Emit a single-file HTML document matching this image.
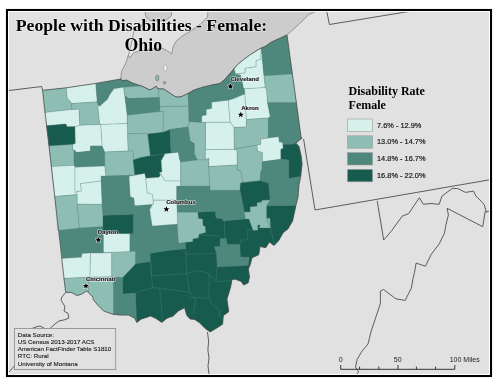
<!DOCTYPE html>
<html><head><meta charset="utf-8"><style>
html,body{margin:0;padding:0;background:#fff;}
body{width:500px;height:386px;overflow:hidden;position:relative;}
svg{position:absolute;left:0;top:0;will-change:transform;}
</style></head><body>
<svg width="500" height="386" viewBox="0 0 500 386">
<rect x="0" y="0" width="500" height="386" fill="#ffffff"/>
<rect x="9" y="11" width="480" height="363" fill="#e1e1e1"/>
<polygon points="128.4,55.2 125.6,63.6 121.5,71.3 120.8,78.5 120.8,78.5 122.0,80.6 126.8,80.2 132.4,83.0 138.0,85.0 143.6,87.0 150.0,90.0 156.3,86.3 158.0,88.9 163.5,88.9 169.0,92.5 174.4,96.1 177.2,97.2 181.7,96.5 188.0,93.5 194.0,90.0 203.0,87.2 212.0,85.0 220.0,83.5 225.0,79.2 231.2,72.0 237.4,64.7 243.7,59.5 250.9,54.3 258.2,49.7 261.3,48.0 265.0,46.6 271.3,42.2 287.0,35.0 299.2,24.0 308.8,14.4 317.0,11.0 208.0,11.0 207.5,17.0 200.0,24.5 190.0,31.4 183.0,35.6 176.0,41.2 173.2,46.8 171.8,53.8 167.6,51.0 162.0,48.2 150.0,49.0 134.0,52.4 129.8,58.0" fill="#cccccc" stroke="#7a7a7a" stroke-width="0.7"/>
<polygon points="144.8,11.0 171.8,11.0 171.3,16.0 166.0,20.3 158.0,21.0 150.0,20.5 146.0,17.0" fill="#cccccc" stroke="#7a7a7a" stroke-width="0.7"/>
<polyline points="147.0,20.5 141.0,26.0 134.0,30.0 132.6,38.4 128.4,55.2" fill="none" stroke="#7a7a7a" stroke-width="0.7"/>
<ellipse cx="165.3" cy="68.2" rx="1.7" ry="3.3" fill="#f0f0f0" stroke="#8a8a8a" stroke-width="0.5"/>
<ellipse cx="157.3" cy="78" rx="1.6" ry="3" fill="#8ebdb3" stroke="#6a6a6a" stroke-width="0.6"/>
<ellipse cx="164.5" cy="82.7" rx="1.5" ry="1.2" fill="#8ebdb3" stroke="#6a6a6a" stroke-width="0.6"/>
<polyline points="9.0,90.5 41.7,86.5 42.6,90.3" fill="none" stroke="#4d4d4d" stroke-width="0.9"/>
<polyline points="65.7,292.4 61.8,297.1 61.0,300.2 64.9,306.4 64.1,311.1 68.0,313.4 68.8,318.1 64.9,319.7 59.0,321.0 55.0,324.0 50.0,328.5 47.0,331.0 44.0,328.0 40.0,326.0 36.0,327.0 32.0,328.5 25.0,340.0 14.6,365.6 9.0,372.0" fill="none" stroke="#4d4d4d" stroke-width="0.9"/>
<polyline points="326.7,11.0 329.4,24.5 411.8,11.0" fill="none" stroke="#4d4d4d" stroke-width="0.9"/>
<polyline points="303.6,139.0 315.0,210.0 489.0,179.9" fill="none" stroke="#4d4d4d" stroke-width="0.9"/>
<polyline points="207.5,332.0 208.6,341.2 207.9,350.0 209.0,358.0 208.0,366.0 209.0,374.0" fill="none" stroke="#4d4d4d" stroke-width="0.9"/>
<polyline points="377.2,200.9 383.7,240.0 391.7,230.7 395.0,226.0 402.2,216.2 408.8,213.5 413.0,207.0 416.7,201.7 419.4,197.7 423.3,204.3 431.0,203.5 439.2,204.3 441.8,196.4 446.0,193.0 452.3,188.5 457.6,188.5 465.5,192.4 473.5,191.1 476.1,196.4 479.0,199.0 484.0,204.3 486.6,212.2 489.0,211.0" fill="none" stroke="#4d4d4d" stroke-width="0.9"/>
<polyline points="447.1,208.3 448.4,214.9 445.8,225.4 444.4,233.3 439.2,243.9 431.2,254.4 428.5,260.0 425.4,266.2 416.1,263.1 414.5,272.4 413.0,278.6 411.4,288.0 405.2,300.4 395.9,298.8 383.5,289.5 380.4,291.0 380.4,303.5 377.3,312.8 374.2,322.1 371.1,331.4 368.0,343.9 361.7,351.6 357.1,359.4 355.5,367.1 358.6,371.8 355.5,376.0" fill="none" stroke="#4d4d4d" stroke-width="0.9"/>
<polyline points="447.1,208.3 482.7,226.7 485.3,210.9" fill="none" stroke="#4d4d4d" stroke-width="0.9"/>
<polygon points="120.8,78.5 122.0,80.6 126.8,80.2 132.4,83.0 138.0,85.0 143.6,87.0 150.0,90.0 156.3,86.3 158.0,88.9 163.5,88.9 169.0,92.5 174.4,96.1 177.2,97.2 181.7,96.5 188.0,93.5 194.0,90.0 203.0,87.2 212.0,85.0 220.0,83.5 225.0,79.2 231.2,72.0 237.4,64.7 243.7,59.5 250.9,54.3 258.2,49.7 261.3,48.0 265.0,46.6 271.3,42.2 287.0,35.0 301.3,139.0 302.0,137.5 295.9,143.3 299.0,146.4 301.1,155.7 302.1,164.0 300.7,176.5 299.0,184.7 298.0,197.2 295.9,205.5 294.9,210.5 292.6,221.0 287.9,229.1 283.3,232.6 278.6,240.8 274.0,245.5 269.3,242.0 265.8,247.8 260.0,246.6 258.8,254.8 252.0,257.8 250.6,263.5 248.4,269.2 249.5,276.9 248.3,282.8 243.6,285.1 241.3,281.6 235.5,279.3 232.0,279.6 230.7,287.0 227.0,299.3 228.8,311.7 223.4,315.6 222.6,324.2 218.0,327.3 210.2,331.9 205.5,328.8 199.3,322.6 194.7,319.5 190.0,319.0 186.6,315.1 184.6,307.8 178.3,311.0 173.2,316.1 167.0,318.2 161.8,322.4 155.5,318.2 150.4,316.1 147.2,317.2 141.0,319.2 136.8,322.4 134.7,318.2 128.5,315.1 120.2,315.1 112.0,314.0 103.7,311.0 97.4,304.7 93.3,299.6 92.9,297.1 86.7,290.9 82.0,294.0 77.3,295.6 71.1,292.4 65.7,292.4 42.6,90.3 66.3,87.8 95.8,83.4 119.8,79.2" fill="#4e877b" stroke="none"/>
<polygon points="122.7,277.6 135.4,264.0 150.4,261.7 150.4,253.5 168.5,250.8 185.8,249.0 185.7,242.3 192.5,241.8 193.0,238.7 198.2,238.1 199.2,234.0 205.6,232.5 205.1,226.2 203.0,225.7 202.5,219.0 198.4,218.5 197.8,212.3 215.5,211.2 216.0,218.0 222.2,218.5 223.2,221.1 228.0,220.5 245.5,219.1 249.0,219.1 253.1,230.2 257.7,230.2 257.7,225.0 260.1,225.0 259.5,227.9 270.5,227.9 270.0,218.6 266.5,218.0 266.5,205.7 296.0,205.5 294.9,210.5 292.6,221.0 287.9,229.1 283.3,232.6 278.6,240.8 274.0,245.5 269.3,242.0 265.8,247.8 260.0,246.6 258.8,254.8 252.0,257.8 250.6,263.5 248.4,269.2 249.5,276.9 248.3,282.8 243.6,285.1 241.3,281.6 235.5,279.3 232.0,279.6 230.7,287.0 227.0,299.3 228.8,311.7 223.4,315.6 222.6,324.2 218.0,327.3 210.2,331.9 205.5,328.8 199.3,322.6 194.7,319.5 190.0,319.0 186.6,315.1 184.6,307.8 178.3,311.0 173.2,316.1 167.0,318.2 161.8,322.4 155.5,318.2 150.4,316.1 147.2,317.2 141.0,319.2 136.8,322.4 134.7,318.2 135.4,293.0 122.7,294.0" fill="#175a4e" stroke="none"/>
<polygon points="42.6,90.3 66.3,87.8 67.2,98.0 70.0,101.0 71.7,103.6 71.7,109.5 44.6,112.5" fill="#8ebdb3" stroke="#5f7f78" stroke-width="0.45" stroke-opacity="0.6"/>
<polygon points="66.3,87.8 95.8,83.4 97.3,101.8 71.7,103.6 70.0,101.0 67.2,98.0" fill="#d6f1ec" stroke="#5f7f78" stroke-width="0.45" stroke-opacity="0.6"/>
<polygon points="44.6,112.5 71.7,109.5 79.0,109.0 79.9,125.3 75.0,126.8 67.0,126.8 65.9,124.0 46.4,125.7" fill="#d6f1ec" stroke="#5f7f78" stroke-width="0.45" stroke-opacity="0.6"/>
<polygon points="71.7,103.6 97.3,101.8 99.8,124.6 79.9,125.3 79.0,109.0 71.7,109.5" fill="#8ebdb3" stroke="#5f7f78" stroke-width="0.45" stroke-opacity="0.6"/>
<polygon points="46.4,125.7 65.9,124.0 67.0,126.8 75.0,126.8 75.4,143.6 72.6,144.4 49.0,146.0" fill="#175a4e" stroke="#5f7f78" stroke-width="0.45" stroke-opacity="0.6"/>
<polygon points="75.0,126.8 79.9,125.3 99.8,124.6 100.9,125.2 102.2,146.0 90.5,146.0 90.5,151.0 76.8,152.5 74.0,149.9 72.6,149.9 72.6,144.4 75.4,143.6" fill="#d6f1ec" stroke="#5f7f78" stroke-width="0.45" stroke-opacity="0.6"/>
<polygon points="49.0,146.0 72.6,144.4 72.6,149.9 74.0,149.9 74.0,165.3 51.6,166.6" fill="#8ebdb3" stroke="#5f7f78" stroke-width="0.45" stroke-opacity="0.6"/>
<polygon points="76.8,152.5 90.5,151.0 90.5,146.0 102.2,146.0 104.8,152.0 104.8,166.0 86.6,167.5 75.0,167.3 74.0,165.3 74.0,149.9" fill="#4e877b" stroke="#5f7f78" stroke-width="0.45" stroke-opacity="0.6"/>
<polygon points="51.6,166.6 74.0,165.3 75.0,167.3 75.0,192.5 77.0,191.4 77.0,194.6 54.7,196.6" fill="#d6f1ec" stroke="#5f7f78" stroke-width="0.45" stroke-opacity="0.6"/>
<polygon points="75.0,167.3 104.8,166.0 106.0,176.0 101.3,176.3 101.3,180.9 80.5,183.7 81.5,191.1 77.0,191.4 75.0,192.5" fill="#d6f1ec" stroke="#5f7f78" stroke-width="0.45" stroke-opacity="0.6"/>
<polygon points="80.5,183.7 101.3,180.9 102.2,204.4 77.2,204.2 77.0,191.4 81.5,191.1" fill="#d6f1ec" stroke="#5f7f78" stroke-width="0.45" stroke-opacity="0.6"/>
<polygon points="54.7,196.6 77.0,194.6 77.2,204.2 79.5,228.1 57.8,230.4" fill="#8ebdb3" stroke="#5f7f78" stroke-width="0.45" stroke-opacity="0.6"/>
<polygon points="77.2,204.2 102.2,204.4 103.0,215.3 102.9,226.5 79.5,228.1" fill="#8ebdb3" stroke="#5f7f78" stroke-width="0.45" stroke-opacity="0.6"/>
<polygon points="61.3,258.5 81.4,257.2 82.2,253.5 90.5,253.1 90.0,277.2 63.6,278.5" fill="#d6f1ec" stroke="#5f7f78" stroke-width="0.45" stroke-opacity="0.6"/>
<polygon points="90.5,253.1 103.3,253.1 111.8,252.6 111.8,276.8 90.0,277.2" fill="#d6f1ec" stroke="#5f7f78" stroke-width="0.45" stroke-opacity="0.6"/>
<polygon points="63.6,278.5 88.5,277.0 88.5,292.5 86.7,290.9 82.0,294.0 77.3,295.6 71.1,292.4 65.7,292.4" fill="#8ebdb3" stroke="#5f7f78" stroke-width="0.45" stroke-opacity="0.6"/>
<polygon points="88.5,277.0 113.7,277.0 113.7,314.5 112.0,314.0 103.7,311.0 97.4,304.7 93.3,299.6 92.9,297.1 88.5,292.5" fill="#8ebdb3" stroke="#5f7f78" stroke-width="0.45" stroke-opacity="0.6"/>
<polygon points="113.7,277.0 122.7,277.6 122.7,294.0 135.4,293.0 136.8,322.4 134.7,318.2 128.5,315.1 120.2,315.1 113.7,314.5" fill="#4e877b" stroke="#5f7f78" stroke-width="0.45" stroke-opacity="0.6"/>
<polygon points="111.8,251.6 129.4,251.6 135.4,251.3 135.4,264.0 122.7,277.6 111.8,276.8" fill="#8ebdb3" stroke="#5f7f78" stroke-width="0.45" stroke-opacity="0.6"/>
<polygon points="103.5,233.6 129.8,233.6 129.8,251.6 103.5,252.6" fill="#d6f1ec" stroke="#5f7f78" stroke-width="0.45" stroke-opacity="0.6"/>
<polygon points="103.0,215.3 129.4,214.4 133.2,214.4 133.2,233.6 103.5,233.6 103.0,228.5" fill="#175a4e" stroke="#5f7f78" stroke-width="0.45" stroke-opacity="0.6"/>
<polygon points="95.8,83.4 119.8,79.2 120.8,78.5 122.0,80.6 126.8,80.2 132.4,83.0 138.0,85.0 143.6,87.0 142.0,85.8 123.6,87.3 114.0,88.8 109.4,95.3 107.5,99.2 99.7,106.3 98.4,105.7 97.3,101.8" fill="#4e877b" stroke="#5f7f78" stroke-width="0.45" stroke-opacity="0.6"/>
<polygon points="98.4,105.7 99.7,106.3 107.5,99.2 109.4,95.3 114.0,88.8 123.6,87.3 124.8,95.8 127.3,115.2 127.3,123.5 99.8,124.6 97.3,101.8" fill="#d6f1ec" stroke="#5f7f78" stroke-width="0.45" stroke-opacity="0.6"/>
<polygon points="123.6,87.3 142.0,85.8 143.6,87.0 150.0,90.0 156.3,86.3 158.0,88.9 159.5,97.5 129.0,98.6 125.0,96.0" fill="#8ebdb3" stroke="#5f7f78" stroke-width="0.45" stroke-opacity="0.6"/>
<polygon points="125.0,96.0 129.0,98.6 159.5,97.5 160.0,111.6 127.3,115.2" fill="#4e877b" stroke="#5f7f78" stroke-width="0.45" stroke-opacity="0.6"/>
<polygon points="127.3,115.2 160.0,111.6 163.3,111.3 163.3,132.3 147.8,134.0 127.6,133.5" fill="#8ebdb3" stroke="#5f7f78" stroke-width="0.45" stroke-opacity="0.6"/>
<polygon points="158.0,88.9 163.5,88.9 169.0,92.5 174.4,96.1 177.2,97.2 181.7,96.5 188.0,93.5 188.7,106.2 160.0,106.5 159.5,97.5" fill="#8ebdb3" stroke="#5f7f78" stroke-width="0.45" stroke-opacity="0.6"/>
<polygon points="160.0,106.5 188.7,106.2 189.0,121.8 188.0,127.0 170.0,129.6 163.3,132.3 163.3,111.3 160.0,111.6" fill="#8ebdb3" stroke="#5f7f78" stroke-width="0.45" stroke-opacity="0.6"/>
<polygon points="99.8,124.6 127.3,123.5 127.6,133.5 128.2,151.0 104.8,152.0 102.2,146.0 100.9,125.2" fill="#d6f1ec" stroke="#5f7f78" stroke-width="0.45" stroke-opacity="0.6"/>
<polygon points="127.6,133.5 147.8,134.0 150.4,155.8 140.2,157.7 133.2,160.0 133.0,151.0 128.2,151.0" fill="#8ebdb3" stroke="#5f7f78" stroke-width="0.45" stroke-opacity="0.6"/>
<polygon points="147.8,134.0 163.3,132.3 170.0,129.6 171.1,155.2 165.1,153.8 150.4,155.8" fill="#175a4e" stroke="#5f7f78" stroke-width="0.45" stroke-opacity="0.6"/>
<polygon points="104.8,152.0 128.2,151.0 133.0,151.0 133.2,160.0 134.8,174.8 129.4,175.4 106.0,176.0 104.8,166.0" fill="#8ebdb3" stroke="#5f7f78" stroke-width="0.45" stroke-opacity="0.6"/>
<polygon points="133.2,160.0 140.2,157.7 150.4,155.8 165.1,153.8 161.2,160.8 162.0,171.7 158.9,173.2 160.8,174.1 159.2,177.3 145.7,178.3 144.7,173.6 134.8,174.8" fill="#175a4e" stroke="#5f7f78" stroke-width="0.45" stroke-opacity="0.6"/>
<polygon points="165.1,153.8 171.1,153.0 178.3,152.1 179.7,159.3 180.7,162.0 180.7,181.0 165.2,181.0 160.8,174.1 158.9,173.2 162.0,171.7 161.2,160.8" fill="#d6f1ec" stroke="#5f7f78" stroke-width="0.45" stroke-opacity="0.6"/>
<polygon points="101.3,176.3 106.0,176.0 129.4,175.4 129.4,214.4 103.0,215.3 102.2,204.4 101.3,180.9" fill="#4e877b" stroke="#5f7f78" stroke-width="0.45" stroke-opacity="0.6"/>
<polygon points="129.1,176.2 144.7,173.6 145.7,178.3 147.3,192.8 152.5,194.4 153.3,200.2 153.3,204.3 134.8,205.8 133.8,198.0 130.2,196.4" fill="#d6f1ec" stroke="#5f7f78" stroke-width="0.45" stroke-opacity="0.6"/>
<polygon points="145.7,178.3 159.2,177.3 160.8,174.1 165.2,181.0 180.7,181.0 180.7,186.3 177.1,186.3 177.1,200.2 153.3,200.2 152.5,194.4 147.3,192.8" fill="#d6f1ec" stroke="#5f7f78" stroke-width="0.45" stroke-opacity="0.6"/>
<polygon points="153.3,200.2 177.1,200.2 177.4,212.2 178.2,224.0 152.3,226.1 150.7,216.8 149.7,209.5 152.3,204.8 153.3,204.3" fill="#d6f1ec" stroke="#5f7f78" stroke-width="0.45" stroke-opacity="0.6"/>
<polygon points="188.0,93.5 194.0,90.0 203.0,87.2 212.0,85.0 220.0,83.5 225.0,79.2 231.2,72.0 234.3,68.8 235.4,74.0 240.5,75.0 242.0,79.6 243.3,87.4 244.6,94.0 234.0,98.5 227.2,100.4 211.7,102.3 211.7,108.6 206.3,109.5 206.3,115.0 201.8,115.9 201.8,122.5 189.0,121.8 188.7,106.2" fill="#4e877b" stroke="#5f7f78" stroke-width="0.45" stroke-opacity="0.6"/>
<polygon points="211.7,102.3 228.2,100.2 230.2,122.2 201.8,122.5 201.8,115.9 206.3,115.0 206.3,109.5 211.7,108.6" fill="#d6f1ec" stroke="#5f7f78" stroke-width="0.45" stroke-opacity="0.6"/>
<polygon points="228.2,100.2 234.0,98.5 244.6,94.0 245.0,95.0 246.4,119.6 246.4,127.0 234.0,127.4 230.2,122.2" fill="#d6f1ec" stroke="#5f7f78" stroke-width="0.45" stroke-opacity="0.6"/>
<polygon points="244.6,88.7 265.3,87.4 266.7,90.0 267.6,102.7 270.3,116.4 268.4,118.0 246.4,119.6 245.0,95.0" fill="#d6f1ec" stroke="#5f7f78" stroke-width="0.45" stroke-opacity="0.6"/>
<polygon points="234.3,68.8 237.4,64.7 243.7,59.5 250.9,54.3 258.2,49.7 261.3,48.0 260.8,59.5 256.1,60.5 256.1,66.8 245.2,68.3 245.2,73.0 235.4,74.0" fill="#d6f1ec" stroke="#5f7f78" stroke-width="0.45" stroke-opacity="0.6"/>
<polygon points="235.4,74.0 245.2,73.0 245.2,68.3 256.1,66.8 256.1,60.5 260.8,59.5 261.3,48.0 264.0,75.8 265.3,87.4 244.6,88.7 243.3,87.4 242.0,79.6 240.5,75.0" fill="#d6f1ec" stroke="#5f7f78" stroke-width="0.45" stroke-opacity="0.6"/>
<polygon points="261.3,48.0 265.0,46.6 271.3,42.2 287.0,35.0 292.3,74.0 264.0,75.8" fill="#4e877b" stroke="#5f7f78" stroke-width="0.45" stroke-opacity="0.6"/>
<polygon points="264.0,75.8 292.3,74.0 296.5,102.7 267.6,102.7 266.7,90.0 265.3,87.4" fill="#8ebdb3" stroke="#5f7f78" stroke-width="0.45" stroke-opacity="0.6"/>
<polygon points="201.8,122.5 230.2,122.2 234.0,127.4 234.4,149.4 205.4,149.6 205.4,122.5" fill="#d6f1ec" stroke="#5f7f78" stroke-width="0.45" stroke-opacity="0.6"/>
<polygon points="189.0,121.8 201.8,122.5 205.4,122.5 205.4,160.0 197.3,160.0 194.2,153.9 194.2,143.5 190.0,141.0 188.0,127.0" fill="#8ebdb3" stroke="#5f7f78" stroke-width="0.45" stroke-opacity="0.6"/>
<polygon points="170.0,129.6 188.0,127.0 190.0,141.0 194.2,143.5 194.2,153.9 197.3,160.0 180.7,162.0 179.7,159.3 178.3,152.1 171.1,153.0" fill="#4e877b" stroke="#5f7f78" stroke-width="0.45" stroke-opacity="0.6"/>
<polygon points="234.0,127.4 246.4,127.0 246.4,119.6 268.4,118.0 268.4,138.0 260.7,139.1 260.7,144.5 256.8,145.3 237.3,148.4 234.4,149.4" fill="#8ebdb3" stroke="#5f7f78" stroke-width="0.45" stroke-opacity="0.6"/>
<polygon points="267.6,102.7 296.5,102.7 301.3,139.0 295.9,143.3 292.8,144.3 283.2,144.5 282.4,142.2 279.3,142.2 278.5,136.8 268.4,138.0 268.4,118.0 270.3,116.4" fill="#4e877b" stroke="#5f7f78" stroke-width="0.45" stroke-opacity="0.6"/>
<polygon points="260.7,139.1 278.5,136.8 279.3,142.2 282.4,142.2 283.2,148.4 280.9,149.2 280.9,159.3 262.2,161.7 262.2,152.3 257.6,151.5 256.8,145.3 260.7,144.5" fill="#d6f1ec" stroke="#5f7f78" stroke-width="0.45" stroke-opacity="0.6"/>
<polygon points="283.2,144.5 292.8,144.3 295.9,143.3 299.0,146.4 301.1,155.7 302.1,164.0 300.7,176.5 288.7,178.5 288.7,160.0 280.9,159.3 280.9,149.2 283.2,148.4" fill="#175a4e" stroke="#5f7f78" stroke-width="0.45" stroke-opacity="0.6"/>
<polygon points="205.4,149.6 234.4,149.4 237.0,150.0 237.4,165.0 208.7,166.6 208.7,158.3 205.4,160.0" fill="#d6f1ec" stroke="#5f7f78" stroke-width="0.45" stroke-opacity="0.6"/>
<polygon points="234.4,149.4 237.3,148.4 256.8,145.3 257.6,151.5 262.2,152.3 262.2,161.7 262.3,168.3 260.8,172.2 260.0,180.8 242.9,182.3 240.6,170.7 237.4,169.9 237.4,165.0 237.0,150.0" fill="#8ebdb3" stroke="#5f7f78" stroke-width="0.45" stroke-opacity="0.6"/>
<polygon points="180.7,162.0 197.3,160.0 204.6,160.0 208.7,158.3 208.7,166.6 209.7,186.3 180.7,186.3" fill="#8ebdb3" stroke="#5f7f78" stroke-width="0.45" stroke-opacity="0.6"/>
<polygon points="208.7,166.6 237.4,165.0 237.4,169.9 240.6,170.7 242.9,182.3 240.6,183.1 240.0,190.4 209.7,190.4 209.7,186.3" fill="#8ebdb3" stroke="#5f7f78" stroke-width="0.45" stroke-opacity="0.6"/>
<polygon points="262.2,161.7 280.9,159.3 288.7,160.0 288.7,178.5 300.7,176.5 299.0,184.7 298.0,197.2 295.9,205.5 266.5,205.7 270.0,199.9 268.5,183.3 260.0,180.8 260.8,172.2 262.3,168.3" fill="#4e877b" stroke="#5f7f78" stroke-width="0.45" stroke-opacity="0.6"/>
<polygon points="240.6,183.1 260.0,180.8 268.5,183.3 270.0,199.9 261.8,200.5 261.8,202.2 257.1,202.8 257.1,206.3 250.2,206.9 250.2,212.1 244.3,212.1 240.0,190.4" fill="#175a4e" stroke="#5f7f78" stroke-width="0.45" stroke-opacity="0.6"/>
<polygon points="176.6,186.3 209.7,186.3 209.7,190.4 240.0,190.4 244.3,212.1 245.5,219.1 228.0,220.5 223.2,221.1 222.2,218.5 216.0,218.0 215.5,211.2 197.8,212.3 177.4,212.2 176.6,200.4" fill="#4e877b" stroke="#5f7f78" stroke-width="0.45" stroke-opacity="0.6"/>
<polygon points="244.3,212.1 250.2,212.1 250.2,206.9 257.1,206.3 257.1,202.8 261.8,202.2 261.8,200.5 270.0,199.9 266.5,205.7 266.5,218.0 270.0,218.6 270.5,227.9 259.5,227.9 260.1,225.0 257.7,225.0 257.7,230.2 253.1,230.2 249.0,219.1 245.5,219.1" fill="#8ebdb3" stroke="#5f7f78" stroke-width="0.45" stroke-opacity="0.6"/>
<polygon points="177.4,212.2 197.8,212.3 198.4,218.5 202.5,219.0 203.0,225.7 205.1,226.2 205.6,232.5 199.2,234.0 198.2,238.1 193.0,238.7 192.5,241.8 185.7,242.3 178.5,243.3 177.4,225.7" fill="#8ebdb3" stroke="#5f7f78" stroke-width="0.45" stroke-opacity="0.6"/>
<polygon points="220.0,238.5 226.4,238.5 227.1,244.2 239.9,244.2 240.6,257.0 249.2,257.0 248.4,265.6 217.1,267.0 216.4,253.5 214.3,246.4 220.0,246.4" fill="#4e877b" stroke="#5f7f78" stroke-width="0.45" stroke-opacity="0.6"/>
<polyline points="150.4,253.5 151.4,275.7 186.6,273.7" fill="none" stroke="#3f7d71" stroke-width="0.5"/>
<polyline points="185.8,249.0 186.6,273.7 189.7,292.3" fill="none" stroke="#3f7d71" stroke-width="0.5"/>
<polyline points="135.4,293.0 152.6,287.6 159.7,288.2 189.7,292.3" fill="none" stroke="#3f7d71" stroke-width="0.5"/>
<polyline points="150.4,261.7 152.6,287.6" fill="none" stroke="#3f7d71" stroke-width="0.5"/>
<polyline points="159.7,288.2 162.8,321.0" fill="none" stroke="#3f7d71" stroke-width="0.5"/>
<polyline points="189.7,292.3 196.0,299.6 193.1,314.8" fill="none" stroke="#3f7d71" stroke-width="0.5"/>
<polyline points="189.7,297.5 202.4,297.8 208.4,298.5 210.2,297.8 210.2,302.0 214.8,307.0 219.5,310.2 219.5,316.4 222.6,319.0" fill="none" stroke="#3f7d71" stroke-width="0.5"/>
<polyline points="186.6,273.7 195.0,270.7 201.2,271.4 209.0,273.8" fill="none" stroke="#3f7d71" stroke-width="0.5"/>
<polyline points="209.0,273.8 209.0,298.5" fill="none" stroke="#3f7d71" stroke-width="0.5"/>
<polyline points="209.0,273.8 216.0,281.5 230.8,280.8" fill="none" stroke="#3f7d71" stroke-width="0.5"/>
<polyline points="217.1,267.0 216.0,281.5" fill="none" stroke="#3f7d71" stroke-width="0.5"/>
<polyline points="185.7,254.2 216.4,253.5" fill="none" stroke="#3f7d71" stroke-width="0.5"/>
<polyline points="199.2,234.5 219.1,236.1 220.1,238.2" fill="none" stroke="#3f7d71" stroke-width="0.5"/>
<polyline points="224.5,220.8 224.5,238.5" fill="none" stroke="#3f7d71" stroke-width="0.5"/>
<polyline points="253.1,230.2 247.7,230.0 247.7,239.2 240.6,240.7 240.6,244.2" fill="none" stroke="#3f7d71" stroke-width="0.5"/>
<polyline points="266.5,218.0 270.5,227.9 274.0,243.5" fill="none" stroke="#3f7d71" stroke-width="0.5"/>
<polygon points="120.8,78.5 122.0,80.6 126.8,80.2 132.4,83.0 138.0,85.0 143.6,87.0 150.0,90.0 156.3,86.3 158.0,88.9 163.5,88.9 169.0,92.5 174.4,96.1 177.2,97.2 181.7,96.5 188.0,93.5 194.0,90.0 203.0,87.2 212.0,85.0 220.0,83.5 225.0,79.2 231.2,72.0 237.4,64.7 243.7,59.5 250.9,54.3 258.2,49.7 261.3,48.0 265.0,46.6 271.3,42.2 287.0,35.0 301.3,139.0 302.0,137.5 295.9,143.3 299.0,146.4 301.1,155.7 302.1,164.0 300.7,176.5 299.0,184.7 298.0,197.2 295.9,205.5 294.9,210.5 292.6,221.0 287.9,229.1 283.3,232.6 278.6,240.8 274.0,245.5 269.3,242.0 265.8,247.8 260.0,246.6 258.8,254.8 252.0,257.8 250.6,263.5 248.4,269.2 249.5,276.9 248.3,282.8 243.6,285.1 241.3,281.6 235.5,279.3 232.0,279.6 230.7,287.0 227.0,299.3 228.8,311.7 223.4,315.6 222.6,324.2 218.0,327.3 210.2,331.9 205.5,328.8 199.3,322.6 194.7,319.5 190.0,319.0 186.6,315.1 184.6,307.8 178.3,311.0 173.2,316.1 167.0,318.2 161.8,322.4 155.5,318.2 150.4,316.1 147.2,317.2 141.0,319.2 136.8,322.4 134.7,318.2 128.5,315.1 120.2,315.1 112.0,314.0 103.7,311.0 97.4,304.7 93.3,299.6 92.9,297.1 86.7,290.9 82.0,294.0 77.3,295.6 71.1,292.4 65.7,292.4 42.6,90.3 66.3,87.8 95.8,83.4 119.8,79.2" fill="none" stroke="#505050" stroke-width="0.7"/>
<polygon points="230.4,83.2 231.2,85.3 233.4,85.4 231.7,86.8 232.3,89.0 230.4,87.7 228.5,89.0 229.1,86.8 227.4,85.4 229.6,85.3" fill="#000" stroke="#fff" stroke-width="0.9" stroke-linejoin="round" paint-order="stroke"/>
<polygon points="240.8,111.6 241.6,113.7 243.8,113.8 242.1,115.2 242.7,117.4 240.8,116.1 238.9,117.4 239.5,115.2 237.8,113.8 240.0,113.7" fill="#000" stroke="#fff" stroke-width="0.9" stroke-linejoin="round" paint-order="stroke"/>
<polygon points="166.4,206.1 167.2,208.2 169.4,208.3 167.7,209.7 168.3,211.9 166.4,210.6 164.5,211.9 165.1,209.7 163.4,208.3 165.6,208.2" fill="#000" stroke="#fff" stroke-width="0.9" stroke-linejoin="round" paint-order="stroke"/>
<polygon points="98.3,236.6 99.1,238.7 101.3,238.8 99.6,240.2 100.2,242.4 98.3,241.1 96.4,242.4 97.0,240.2 95.3,238.8 97.5,238.7" fill="#000" stroke="#fff" stroke-width="0.9" stroke-linejoin="round" paint-order="stroke"/>
<polygon points="85.9,282.8 86.7,284.9 88.9,285.0 87.2,286.4 87.8,288.6 85.9,287.3 84.0,288.6 84.6,286.4 82.9,285.0 85.1,284.9" fill="#000" stroke="#fff" stroke-width="0.9" stroke-linejoin="round" paint-order="stroke"/>
<text x="230.4" y="80.9" font-family="Liberation Sans, sans-serif" font-weight="bold" font-size="6.05" fill="#1e1e1e" stroke="#fff" stroke-opacity="0.85" stroke-width="1.1" stroke-linejoin="round">Cleveland</text>
<text x="230.4" y="80.9" font-family="Liberation Sans, sans-serif" font-weight="bold" font-size="6.05" fill="#1a1a1a" stroke="#1a1a1a" stroke-width="0.15">Cleveland</text>
<text x="241.2" y="109.9" font-family="Liberation Sans, sans-serif" font-weight="bold" font-size="6.05" fill="#1e1e1e" stroke="#fff" stroke-opacity="0.85" stroke-width="1.1" stroke-linejoin="round">Akron</text>
<text x="241.2" y="109.9" font-family="Liberation Sans, sans-serif" font-weight="bold" font-size="6.05" fill="#1a1a1a" stroke="#1a1a1a" stroke-width="0.15">Akron</text>
<text x="166.2" y="203.9" font-family="Liberation Sans, sans-serif" font-weight="bold" font-size="6.05" fill="#1e1e1e" stroke="#fff" stroke-opacity="0.85" stroke-width="1.1" stroke-linejoin="round">Columbus</text>
<text x="166.2" y="203.9" font-family="Liberation Sans, sans-serif" font-weight="bold" font-size="6.05" fill="#1a1a1a" stroke="#1a1a1a" stroke-width="0.15">Columbus</text>
<text x="97.7" y="234.3" font-family="Liberation Sans, sans-serif" font-weight="bold" font-size="6.05" fill="#1e1e1e" stroke="#fff" stroke-opacity="0.85" stroke-width="1.1" stroke-linejoin="round">Dayton</text>
<text x="97.7" y="234.3" font-family="Liberation Sans, sans-serif" font-weight="bold" font-size="6.05" fill="#1a1a1a" stroke="#1a1a1a" stroke-width="0.15">Dayton</text>
<text x="86" y="281" font-family="Liberation Sans, sans-serif" font-weight="bold" font-size="6.05" fill="#1e1e1e" stroke="#fff" stroke-opacity="0.85" stroke-width="1.1" stroke-linejoin="round">Cincinnati</text>
<text x="86" y="281" font-family="Liberation Sans, sans-serif" font-weight="bold" font-size="6.05" fill="#1a1a1a" stroke="#1a1a1a" stroke-width="0.15">Cincinnati</text>
<text x="141.5" y="31.2" text-anchor="middle" font-family="Liberation Serif, serif" font-weight="bold" font-size="17.7" fill="#000" stroke="#fff" stroke-opacity="0.6" stroke-width="1.2" paint-order="stroke">People with Disabilities - Female:</text>
<text x="143.3" y="51.3" text-anchor="middle" font-family="Liberation Serif, serif" font-weight="bold" font-size="17.8" fill="#000" stroke="#fff" stroke-opacity="0.6" stroke-width="1.2" paint-order="stroke">Ohio</text>
<text x="348.6" y="95.0" transform="translate(0,95) scale(1,1.05) translate(0,-95)" font-family="Liberation Serif, serif" font-weight="bold" font-size="12" fill="#000">Disability Rate</text>
<text x="348.6" y="108.7" transform="translate(0,108.7) scale(1,1.05) translate(0,-108.7)" font-family="Liberation Serif, serif" font-weight="bold" font-size="12" fill="#000">Female</text>
<rect x="347.5" y="119.0" width="25" height="12.4" fill="#d6f1ec" stroke="#9a9a9a" stroke-width="0.6"/>
<text x="377" y="127.6" font-family="Liberation Sans, sans-serif" font-size="7.4" fill="#1a1a1a" stroke="#1a1a1a" stroke-width="0.2">7.6% - 12.9%</text>
<rect x="347.5" y="135.8" width="25" height="12.4" fill="#8ebdb3" stroke="#9a9a9a" stroke-width="0.6"/>
<text x="377" y="144.4" font-family="Liberation Sans, sans-serif" font-size="7.4" fill="#1a1a1a" stroke="#1a1a1a" stroke-width="0.2">13.0% - 14.7%</text>
<rect x="347.5" y="152.6" width="25" height="12.4" fill="#4e877b" stroke="#9a9a9a" stroke-width="0.6"/>
<text x="377" y="161.2" font-family="Liberation Sans, sans-serif" font-size="7.4" fill="#1a1a1a" stroke="#1a1a1a" stroke-width="0.2">14.8% - 16.7%</text>
<rect x="347.5" y="169.4" width="25" height="12.4" fill="#175a4e" stroke="#9a9a9a" stroke-width="0.6"/>
<text x="377" y="178.0" font-family="Liberation Sans, sans-serif" font-size="7.4" fill="#1a1a1a" stroke="#1a1a1a" stroke-width="0.2">16.8% - 22.0%</text>
<rect x="14.5" y="328.4" width="101.2" height="41.2" fill="#e1e1e1" stroke="#8a8a8a" stroke-width="0.8"/>
<text x="17.8" y="336.9" font-family="Liberation Sans, sans-serif" font-size="6.2" fill="#1a1a1a" stroke="#1a1a1a" stroke-width="0.12">Data Source:</text>
<text x="17.8" y="344.0" font-family="Liberation Sans, sans-serif" font-size="6.2" fill="#1a1a1a" stroke="#1a1a1a" stroke-width="0.12">US Census 2013-2017 ACS</text>
<text x="17.8" y="351.2" font-family="Liberation Sans, sans-serif" font-size="6.2" fill="#1a1a1a" stroke="#1a1a1a" stroke-width="0.12">American FactFinder Table S1810</text>
<text x="17.8" y="358.3" font-family="Liberation Sans, sans-serif" font-size="6.2" fill="#1a1a1a" stroke="#1a1a1a" stroke-width="0.12">RTC: Rural</text>
<text x="17.8" y="365.5" font-family="Liberation Sans, sans-serif" font-size="6.2" fill="#1a1a1a" stroke="#1a1a1a" stroke-width="0.12">University of Montana</text>
<polyline points="340.7,365.0 340.7,369.3 454.8,369.3 454.8,365.0" stroke="#222" stroke-width="0.9" fill="none"/>
<line x1="359.6" y1="366.6" x2="359.6" y2="369.3" stroke="#222" stroke-width="0.9" fill="none"/>
<line x1="378.8" y1="366.6" x2="378.8" y2="369.3" stroke="#222" stroke-width="0.9" fill="none"/>
<line x1="416.4" y1="366.6" x2="416.4" y2="369.3" stroke="#222" stroke-width="0.9" fill="none"/>
<line x1="435.6" y1="366.6" x2="435.6" y2="369.3" stroke="#222" stroke-width="0.9" fill="none"/>
<line x1="398" y1="365" x2="398" y2="369.3" stroke="#222" stroke-width="0.9" fill="none"/>
<text x="340.7" y="361.8" text-anchor="middle" font-family="Liberation Sans, sans-serif" font-size="7" fill="#222">0</text>
<text x="397.7" y="361.8" text-anchor="middle" font-family="Liberation Sans, sans-serif" font-size="7" fill="#222">50</text>
<text x="449.7" y="361.8" font-family="Liberation Sans, sans-serif" font-size="7" fill="#222">100 Miles</text>
<rect x="7" y="10" width="484" height="366" fill="none" stroke="#000" stroke-width="2.1"/>
<rect x="8.55" y="11.55" width="480.9" height="362.9" fill="none" stroke="#fff" stroke-width="1"/>
</svg></body></html>
